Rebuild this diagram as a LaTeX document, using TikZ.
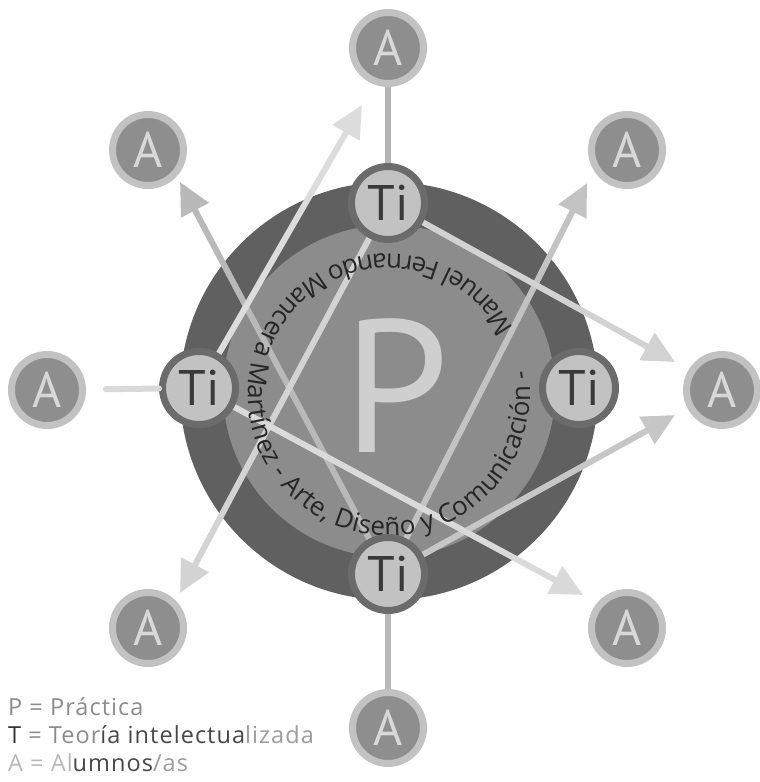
\documentclass[tikz,border=0pt]{standalone}
\usepackage{fontspec}
\setmainfont{PT Sans}
\newfontfamily\legfont{Open Sans}[LetterSpace=4.5]
\newfontfamily\arcfont{Open Sans}
\usetikzlibrary{arrows.meta,decorations.text}
\definecolor{bigdark}{HTML}{606060}
\definecolor{biglight}{HTML}{8C8C8C}
\definecolor{pcol}{HTML}{CFCFCF}
\definecolor{tiring}{HTML}{6B6B6B}
\definecolor{tiin}{HTML}{C2C2C2}
\definecolor{titext}{HTML}{3A3A3A}
\definecolor{aring}{HTML}{C2C2C2}
\definecolor{ain}{HTML}{8E8E8E}
\definecolor{atext}{HTML}{D8D8D8}
\definecolor{curvetext}{HTML}{262626}
\definecolor{legA}{HTML}{8C8C8C}
\definecolor{legDark}{HTML}{333333}
\definecolor{legMid}{HTML}{474747}
\definecolor{legLight}{HTML}{9C9C9C}
\definecolor{legPale}{HTML}{B8B8B8}
\tikzset{
  tinode/.style={circle, fill=tiin, draw=tiring, line width=7pt, minimum size=73pt, inner sep=0pt,
    font=\fontsize{50}{50}\selectfont, text=titext},
  anode/.style={circle, fill=ain, draw=aring, line width=7pt, minimum size=71pt, inner sep=0pt,
    font=\fontsize{50}{50}\selectfont, text=atext},
  arr/.style={line width=6pt, -{Triangle[length=32pt,width=30pt]}},
  plainline/.style={line width=6pt},
  legend/.style={anchor=base west, inner sep=0pt, font=\legfont\fontsize{23.5}{24}\selectfont}
}
\begin{document}
\begin{tikzpicture}[x=1pt,y=-1pt]
\useasboundingbox (0,0) rectangle (760,782);
\fill[white] (0,0) rectangle (760,782);
\coordinate (C) at (389,391);
\coordinate (Ct) at (389,395);
\fill[bigdark] (C) circle[radius=209];
\fill[biglight] (C) circle[radius=166];
\node[inner sep=0pt, text=pcol, font=\fontsize{189}{189}\selectfont] (P) at (396,386) {P};

% arrow tip coordinates
\coordinate (e1) at (362,105);
\coordinate (e2) at (180,593);
\coordinate (e3) at (180,182);
\coordinate (e4) at (587,183);
\coordinate (e5) at (675,362);
\coordinate (e6) at (675,415);
\coordinate (e7) at (583,595);

\coordinate (T1c) at (388,203);
\coordinate (T2c) at (199,388);
\coordinate (T3c) at (579,388);
\coordinate (T4c) at (388,574);

\draw[arr, color={rgb,255:red,185;green,185;blue,185}] (T4c) -- (e3);
\draw[arr, color={rgb,255:red,195;green,195;blue,195}] (T4c) -- (e4);
\draw[arr, color={rgb,255:red,198;green,198;blue,198}] (T4c) -- (e6);
\draw[arr, color={rgb,255:red,210;green,210;blue,210}] (T1c) -- (e5);
\draw[arr, color={rgb,255:red,211;green,211;blue,211}] (T1c) -- (e2);
\draw[arr, color={rgb,255:red,218;green,218;blue,218}] (T2c) -- (e7);
\draw[arr, color={rgb,255:red,220;green,220;blue,220}] (T2c) -- (e1);

% curved text
\path[decorate, decoration={text along path, text align={fit to path},
  text={|\arcfont\fontsize{26}{26}\selectfont\color{curvetext}|Manuel Fernando Mancera Martínez - Arte, Diseño y Comunicación -}}]
  (Ct) ++(-28:141) arc[start angle=-28, end angle=-370, radius=141];

% Ti nodes
\node[tinode] (T1) at (T1c) {Ti};
\node[tinode] (T2) at (T2c) {Ti};
\node[tinode] (T3) at (T3c) {Ti};
\node[tinode] (T4) at (T4c) {Ti};

% A nodes
\node[anode] (A1) at (388,48) {A};
\node[anode] (A2) at (627,150) {A};
\node[anode] (A3) at (722,390) {A};
\node[anode] (A4) at (627,628) {A};
\node[anode] (A5) at (388,728) {A};
\node[anode] (A6) at (148,628) {A};
\node[anode] (A7) at (47,390) {A};
\node[anode] (A8) at (148,150) {A};

% plain connectors
\draw[plainline, color={rgb,255:red,181;green,181;blue,181}] (A1) -- (T1);
\draw[plainline, color={rgb,255:red,217;green,217;blue,217}, line cap=round, shorten <=20pt] (A7) -- (T2);
\draw[plainline, color={rgb,255:red,185;green,185;blue,185}] (T4) -- (A5);

% legend
\node[legend] (L1) at (8,715) {\color{legA}P = Práctica};
\node[legend] (L2) at (8,743) {\color{legDark}T \color{legA}= Teor\color{legMid}ía intelectua\color{legLight}lizada};
\node[legend] (L3) at (8,771) {\color{legPale}A = Al\color{legMid}umnos\color{legLight}/as};
\end{tikzpicture}
\end{document}
